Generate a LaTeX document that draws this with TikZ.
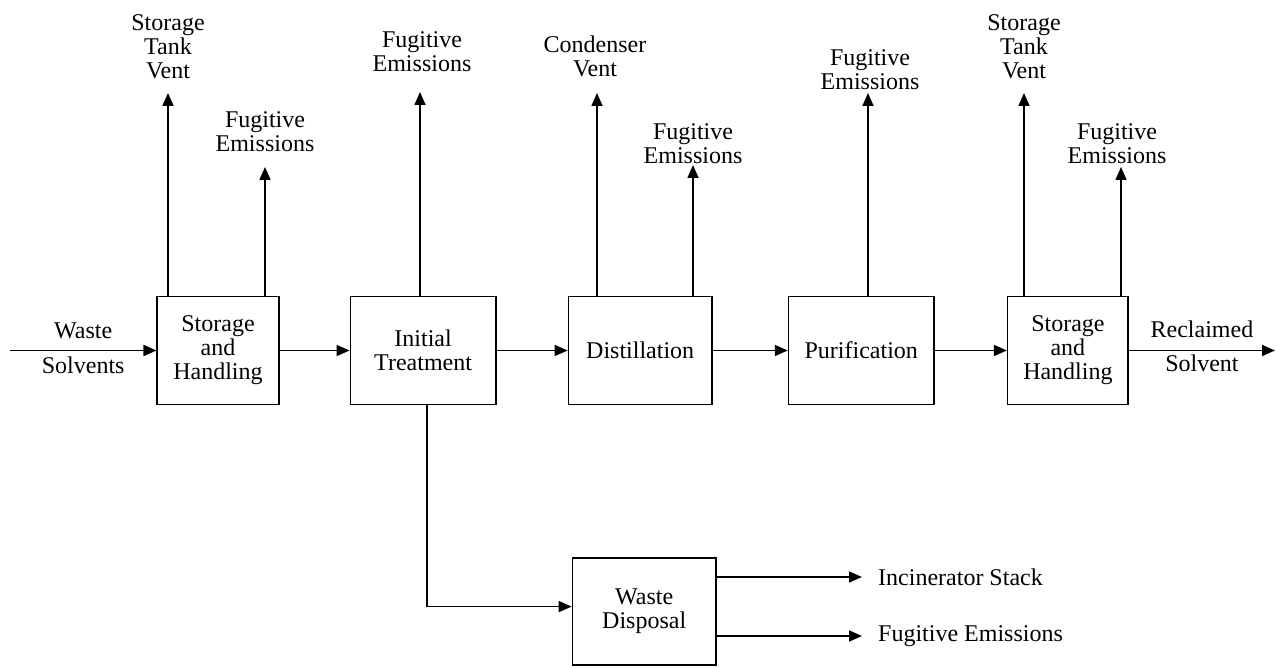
\documentclass[tikz,border=0pt]{standalone}
\usepackage{fontspec}
\setmainfont{Liberation Serif}
\usetikzlibrary{positioning,arrows.meta}

\begin{document}
\begin{tikzpicture}[
    x=1pt, y=1pt,
    >={Triangle[length=13pt,width=11pt]},
    node distance=71pt,
    font=\fontsize{24}{24}\selectfont,
    block/.style={rectangle, draw, line width=1.6pt, minimum width=145.5pt, minimum height=108pt, align=center, inner sep=2pt},
    arrow/.style={->, line width=1.6pt},
    tag/.style={align=center, inner sep=0pt}
]
\useasboundingbox (0,0) rectangle (1277,667);

% Process line
\node[block, minimum width=121.5pt] (store1) at (218,316.5) {Storage\\and\\Handling};
\node[block, right=70pt of store1] (treat) {Initial\\Treatment};
\node[block, minimum width=143.5pt, right=of treat] (distil) {Distillation};
\node[block, right=75pt of distil] (purify) {Purification};
\node[block, minimum width=120.5pt, right=72pt of purify] (store2) {Storage\\and\\Handling};

% Waste branch
\node[block, minimum width=143.5pt, minimum height=107pt, below=152pt of distil, xshift=4pt] (waste) {Waste\\Disposal};

% Free ends
\coordinate (in) at (10,316.5);
\coordinate (out) at (1275,316.5);
\coordinate (vent1) at (168,574);
\coordinate (fug1) at (265,500);
\coordinate (fug2) at (420,575);
\coordinate (cond) at (597,574);
\coordinate (fug3) at (693,502);
\coordinate (fug4) at (868,574);
\coordinate (vent2) at (1024,574);
\coordinate (fug5) at (1121,500);
\coordinate (incin) at (862,90);
\coordinate (fugw) at (862,31);

% Emission labels
\node[tag, above=14pt of vent1] (vent1-lbl) {Storage\\Tank\\Vent};
\node[tag, above=15pt of fug1] (fug1-lbl) {Fugitive\\Emissions};
\node[tag, above=20pt of fug2, xshift=2pt] (fug2-lbl) {Fugitive\\Emissions};
\node[tag, above=16pt of cond, xshift=-2pt] (cond-lbl) {Condenser\\Vent};
\node[tag, above=1pt of fug3] (fug3-lbl) {Fugitive\\Emissions};
\node[tag, above=3pt of fug4, xshift=2pt] (fug4-lbl) {Fugitive\\Emissions};
\node[tag, above=14pt of vent2] (vent2-lbl) {Storage\\Tank\\Vent};
\node[tag, above=3pt of fug5, xshift=-4pt] (fug5-lbl) {Fugitive\\Emissions};
\node[tag, right=16pt of incin] (incin-lbl) {Incinerator Stack};
\node[tag, right=16pt of fugw] (fugw-lbl) {Fugitive Emissions};

% Main flow
\draw[arrow] (in) -- node[tag, above=11pt] (in-top) {Waste} node[tag, below=6pt] (in-bot) {Solvents} (store1.west);
\draw[arrow] (store1) -- (treat);
\draw[arrow] (treat) -- (distil);
\draw[arrow] (distil) -- (purify);
\draw[arrow] (purify) -- (store2);
\draw[arrow] (store2.east) -- node[tag, above=12pt] (out-top) {Reclaimed} node[tag, below=4pt] (out-bot) {Solvent} (out);

% Vents
\draw[arrow] (vent1 |- store1.north) -- (vent1);
\draw[arrow] (fug1 |- store1.north) -- (fug1);
\draw[arrow] (fug2 |- treat.north) -- (fug2);
\draw[arrow] (cond |- distil.north) -- (cond);
\draw[arrow] (fug3 |- distil.north) -- (fug3);
\draw[arrow] (fug4 |- purify.north) -- (fug4);
\draw[arrow] (vent2 |- store2.north) -- (vent2);
\draw[arrow] (fug5 |- store2.north) -- (fug5);

% Waste disposal
\draw[arrow] ([xshift=4pt]treat.south) |- ([yshift=5pt]waste.west);
\draw[arrow] (waste.east |- incin) -- (incin);
\draw[arrow] (waste.east |- fugw) -- (fugw);

\end{tikzpicture}
\end{document}
